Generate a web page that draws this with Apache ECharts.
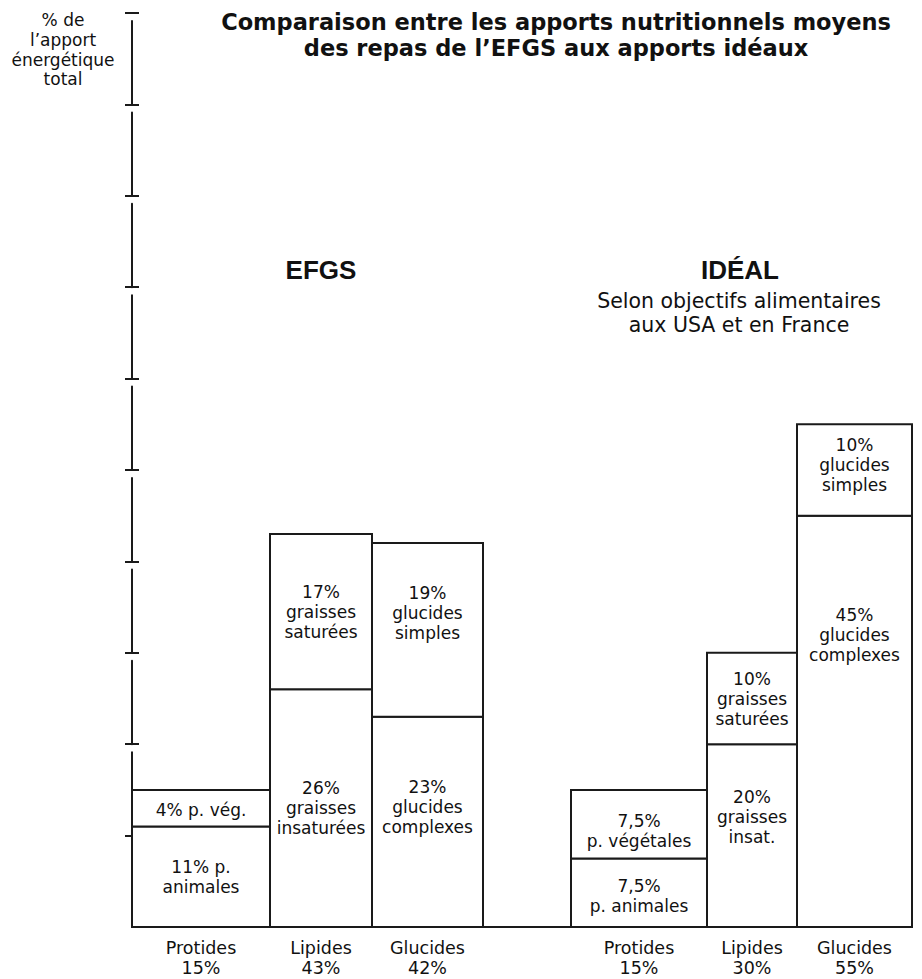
<!DOCTYPE html>
<html><head><meta charset="utf-8">
<script src="https://cdn.jsdelivr.net/npm/echarts@6/dist/echarts.min.js"></script>
<style>html,body{margin:0;padding:0;background:#fff}#chart{width:922px;height:979px}</style>
</head><body><div id="chart"></div>
<script>
// ---------------- data ----------------
const groups = ['EFGS', 'IDÉAL'];
const groupSubtitle = 'Selon objectifs alimentaires\naux USA et en France';
const categories = ['Protides', 'Lipides', 'Glucides'];
// lower part / upper part of each stacked column (% of total energy)
const efgsLower  = [11, 26, 23];
const efgsUpper  = [4, 17, 19];
const idealLower = [7.5, 20, 45];
const idealUpper = [7.5, 10, 10];
// totals printed under the columns
const efgsTotals  = [15, 43, 42];
const idealTotals = [15, 30, 55];
// label templates ({v} = value of the part)
const efgsLowerText  = ['{v} p.\nanimales', '{v}\ngraisses\ninsaturées', '{v}\nglucides\ncomplexes'];
const efgsUpperText  = ['{v} p. vég.', '{v}\ngraisses\nsaturées', '{v}\nglucides\nsimples'];
const idealLowerText = ['{v}\np. animales', '{v}\ngraisses\ninsat.', '{v}\nglucides\ncomplexes'];
const idealUpperText = ['{v}\np. végétales', '{v}\ngraisses\nsaturées', '{v}\nglucides\nsimples'];
// y axis
const yMin = 0, yMax = 100, yInterval = 10;
const yTicks = [10, 20, 30, 40, 50, 60, 70, 80, 90, 100];
const yAxisName = '% de\nl’apport\nénergétique\ntotal';
const chartTitle = 'Comparaison entre les apports nutritionnels moyens\ndes repas de l’EFGS aux apports idéaux';

// ---------------- layout (sizes / positions, not data) ----------------
const layout = {
  gridLeft: 132, gridRight: 10, gridTop: 13, gridBottom: 52,
  columnWidths: [[138, 102, 111], [136, 90, 115]],
  groupGap: 88,
  lowerLabelAt: [[0.5, 0.5, 0.43], [0.55, 0.4, 0.29]],
  upperLabelAt: [[0.55, 0.5, 0.4], [0.6, 0.5, 0.45]]
};
const INK = '#1a1a1a';
const TXT = '#111';
const labelFont = 'DejaVu Sans';

// ---------------- build ----------------
const fmt = v => String(v).replace('.', ',') + '%';
const colStart = [];
let acc = 0;
layout.columnWidths.forEach((ws, g) => {
  colStart[g] = [];
  ws.forEach((w, c) => { colStart[g][c] = acc; acc += w; });
  if (g === 0) acc += layout.groupGap;
});
const xMax = acc;

const lowers = [efgsLower, idealLower];
const uppers = [efgsUpper, idealUpper];
const totals = [efgsTotals, idealTotals];
const lowerTexts = [efgsLowerText, idealLowerText];
const upperTexts = [efgsUpperText, idealUpperText];

const seriesData = [];
for (let g = 0; g < 2; g++) {
  for (let c = 0; c < categories.length; c++) {
    seriesData.push([g, c, lowers[g][c], uppers[g][c], totals[g][c]]);
  }
}

function renderItem(params, api) {
  const g = api.value(0), c = api.value(1);
  const lo = api.value(2), up = api.value(3), tot = api.value(4);
  const xa = colStart[g][c], xb = xa + layout.columnWidths[g][c];
  const p0 = api.coord([xa, 0]);
  const p1 = api.coord([xb, lo]);
  const p2 = api.coord([xb, lo + up]);
  const x = p0[0], w = p1[0] - p0[0], cx = x + w / 2;
  const rectStyle = { fill: '#fff', stroke: INK, lineWidth: 2 };
  const txtStyle = (text, y, size) => ({
    type: 'text', x: cx, y: y,
    style: { text: text, fill: TXT, font: size + 'px "' + labelFont + '"', align: 'center', verticalAlign: 'middle', lineHeight: 20 }
  });
  const loY = p1[1] + (p0[1] - p1[1]) * layout.lowerLabelAt[g][c];
  const upY = p2[1] + (p1[1] - p2[1]) * layout.upperLabelAt[g][c];
  return {
    type: 'group',
    children: [
      { type: 'rect', shape: { x: x, y: p1[1], width: w, height: p0[1] - p1[1] }, style: rectStyle },
      { type: 'rect', shape: { x: x, y: p2[1], width: w, height: p1[1] - p2[1] }, style: rectStyle },
      txtStyle(lowerTexts[g][c].replace('{v}', fmt(lo)), loY, 17),
      txtStyle(upperTexts[g][c].replace('{v}', fmt(up)), upY, 17),
      {
        type: 'text', x: cx, y: p0[1] + 11,
        style: { text: categories[c] + '\n' + fmt(tot), fill: TXT, font: '17.5px "' + labelFont + '"', align: 'center', verticalAlign: 'top', lineHeight: 20 }
      }
    ]
  };
}

const chart = echarts.init(document.getElementById('chart'), null, { renderer: 'svg' });
const period = (979 - layout.gridTop - layout.gridBottom) / ((yMax - yMin) / yInterval);
const yTickCommon = { show: true, length: 7, customValues: yTicks, lineStyle: { color: INK, width: 2 } };

chart.setOption({
  backgroundColor: '#fff',
  animation: false,
  title: [
    { text: chartTitle, left: 556, top: 9, textAlign: 'center', padding: 0,
      textStyle: { fontFamily: 'DejaVu Sans', fontWeight: 'bold', fontSize: 22.5, lineHeight: 26.2, color: TXT } },
    { text: groups[0], left: 321, top: 255, textAlign: 'center', padding: 0,
      textStyle: { fontFamily: 'Liberation Sans', fontWeight: 'bold', fontSize: 26, lineHeight: 30, color: TXT } },
    { text: groups[1], left: 740, top: 255, textAlign: 'center', padding: 0,
      textStyle: { fontFamily: 'Liberation Sans', fontWeight: 'bold', fontSize: 26, lineHeight: 30, color: TXT } },
    { text: groupSubtitle, left: 739, top: 289, textAlign: 'center', padding: 0,
      textStyle: { fontFamily: 'DejaVu Sans', fontWeight: 'normal', fontSize: 20.5, lineHeight: 23.9, color: TXT } },
    { text: yAxisName, left: 63, top: 10, textAlign: 'center', padding: 0,
      textStyle: { fontFamily: labelFont, fontWeight: 'normal', fontSize: 17, lineHeight: 19.8, color: TXT } }
  ],
  grid: { left: layout.gridLeft, right: layout.gridRight, top: layout.gridTop, bottom: layout.gridBottom, containLabel: false },
  xAxis: {
    type: 'value', min: 0, max: xMax,
    axisLine: { show: true, onZero: false, lineStyle: { color: INK, width: 2 } },
    axisTick: { show: false }, axisLabel: { show: false }, splitLine: { show: false }
  },
  yAxis: [
    { type: 'value', min: yMin, max: yMax, interval: yInterval, position: 'left',
      axisLine: { show: true, lineStyle: { color: INK, width: 2, type: [period - 8, 8] } },
      axisTick: Object.assign({ inside: false }, yTickCommon),
      axisLabel: { show: false }, splitLine: { show: false } },
    { type: 'value', min: yMin, max: yMax, interval: yInterval, position: 'left',
      axisLine: { show: false },
      axisTick: Object.assign({ inside: true }, yTickCommon),
      axisLabel: { show: false }, splitLine: { show: false } }
  ],
  series: [{
    type: 'custom',
    renderItem: renderItem,
    coordinateSystem: 'cartesian2d',
    xAxisIndex: 0, yAxisIndex: 0,
    encode: { x: -1, y: [2, 3] },
    data: seriesData,
    z: 3
  }]
});
</script>
</body></html>
